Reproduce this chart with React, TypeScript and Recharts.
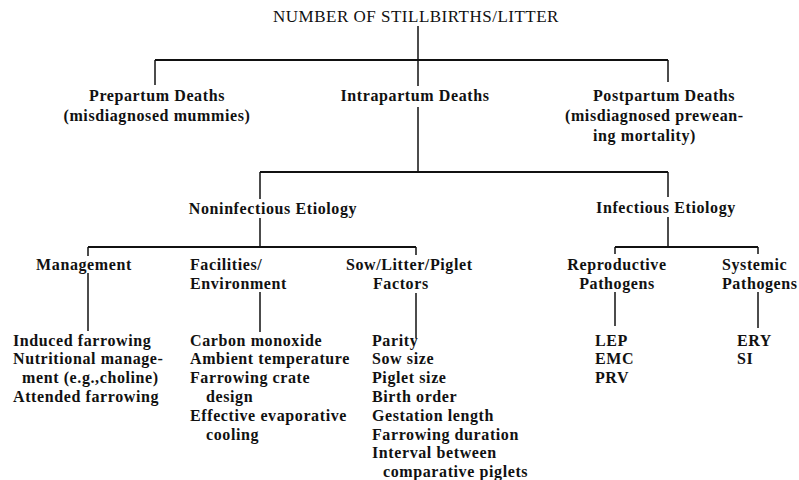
import { ReferenceLine, Scatter, ScatterChart, XAxis, YAxis } from "recharts";

// diagram space = picture pixels (0..799 across, 0..480 down)
const W = 799;
const H = 480;

const title = "NUMBER OF STILLBIRTHS/LITTER";

const level1 = [
  ["Prepartum Deaths", "(misdiagnosed mummies)"],
  ["Intrapartum Deaths"],
  ["Postpartum Deaths", "(misdiagnosed prewean-", "ing mortality)"],
];

const level2 = [["Noninfectious Etiology"], ["Infectious Etiology"]];

const level3 = [
  ["Management"],
  ["Facilities/", "Environment"],
  ["Sow/Litter/Piglet", "Factors"],
  ["Reproductive", "Pathogens"],
  ["Systemic", "Pathogens"],
];

const managementList = [
  "Induced farrowing",
  "Nutritional manage-",
  "ment (e.g.,choline)",
  "Attended farrowing",
];
const facilitiesList = [
  "Carbon monoxide",
  "Ambient temperature",
  "Farrowing crate",
  "design",
  "Effective evaporative",
  "cooling",
];
const sowList = [
  "Parity",
  "Sow size",
  "Piglet size",
  "Birth order",
  "Gestation length",
  "Farrowing duration",
  "Interval between",
  "comparative piglets",
];
const reproductiveList = ["LEP", "EMC", "PRV"];
const systemicList = ["ERY", "SI"];

type Node = {
  x: number;
  y: number;
  lines: string[];
  anchor: "start" | "middle";
  indent?: number[];
  gap?: number;
  title?: boolean;
};

const LIST_GAP = 18.8;

const nodes: Node[] = [
  { x: 416, y: 16, lines: [title], anchor: "middle", title: true },
  { x: 157, y: 95, lines: level1[0], anchor: "middle", gap: 20 },
  { x: 415, y: 95, lines: level1[1], anchor: "middle" },
  { x: 565, y: 95, lines: level1[2], anchor: "start", indent: [28, 0, 28], gap: 20 },
  { x: 273, y: 208, lines: level2[0], anchor: "middle" },
  { x: 666, y: 207, lines: level2[1], anchor: "middle" },
  { x: 84, y: 264, lines: level3[0], anchor: "middle" },
  { x: 190, y: 264, lines: level3[1], anchor: "start", gap: 19 },
  { x: 346, y: 264, lines: level3[2], anchor: "start", indent: [0, 27], gap: 19 },
  { x: 617, y: 264, lines: level3[3], anchor: "middle", gap: 19 },
  { x: 722, y: 264, lines: level3[4], anchor: "start", gap: 19 },
  { x: 13, y: 340, lines: managementList, anchor: "start", indent: [0, 0, 9, 0], gap: LIST_GAP },
  { x: 190, y: 340, lines: facilitiesList, anchor: "start", indent: [0, 0, 0, 16, 0, 16], gap: LIST_GAP },
  { x: 372, y: 340, lines: sowList, anchor: "start", indent: [0, 0, 0, 0, 0, 0, 0, 11], gap: LIST_GAP },
  { x: 595, y: 340, lines: reproductiveList, anchor: "start", gap: LIST_GAP },
  { x: 737, y: 340, lines: systemicList, anchor: "start", gap: LIST_GAP },
];

// connectors: [x1, y1, x2, y2]
const edges: number[][] = [
  [418, 26, 418, 86],
  [155, 60, 668, 60],
  [155, 60, 155, 85],
  [668, 60, 668, 82],
  [418, 107, 418, 172],
  [260, 172, 668, 172],
  [260, 172, 260, 199],
  [260, 218, 260, 247],
  [668, 172, 668, 197],
  [668, 217, 668, 247],
  [88, 247, 416, 247],
  [88, 247, 88, 256],
  [88, 273, 88, 331],
  [260, 292, 260, 332],
  [416, 247, 416, 255],
  [416, 293, 416, 338],
  [615, 247, 758, 247],
  [615, 247, 615, 254],
  [758, 247, 758, 254],
  [615, 292, 615, 326],
  [758, 292, 758, 328],
];

const FONT = "'Liberation Serif', 'Times New Roman', serif";

function NodeText(props: any) {
  const { cx, cy, payload } = props;
  const n = payload as Node;
  const gap = n.gap ?? 18;
  return (
    <g>
      {n.lines.map((line, i) => (
        <text
          key={i}
          x={cx + (n.indent?.[i] ?? 0)}
          y={cy + i * gap}
          dy="0.35em"
          textAnchor={n.anchor}
          fontFamily={FONT}
          fontSize={n.title ? 17 : 16}
          fontWeight={n.title ? 400 : 700}
          letterSpacing={n.title ? 0.5 : 0.6}
          fill="#111"
        >
          {line}
        </text>
      ))}
    </g>
  );
}

export default function App() {
  return (
    <div style={{ position: "absolute", left: 0, top: 0, background: "#fff" }}>
      <ScatterChart width={W} height={H} margin={{ top: 0, right: 0, bottom: 0, left: 0 }}>
        <XAxis type="number" dataKey="x" domain={[0, W]} hide />
        <YAxis type="number" dataKey="y" domain={[0, H]} reversed hide />
        {edges.map(([x1, y1, x2, y2], i) => (
          <ReferenceLine
            key={i}
            segment={[
              { x: x1, y: y1 },
              { x: x2, y: y2 },
            ]}
            stroke="#111"
            strokeWidth={y1 === y2 ? 2 : 1.5}
            ifOverflow="visible"
          />
        ))}
        <Scatter data={nodes} shape={NodeText} isAnimationActive={false} />
      </ScatterChart>
    </div>
  );
}
